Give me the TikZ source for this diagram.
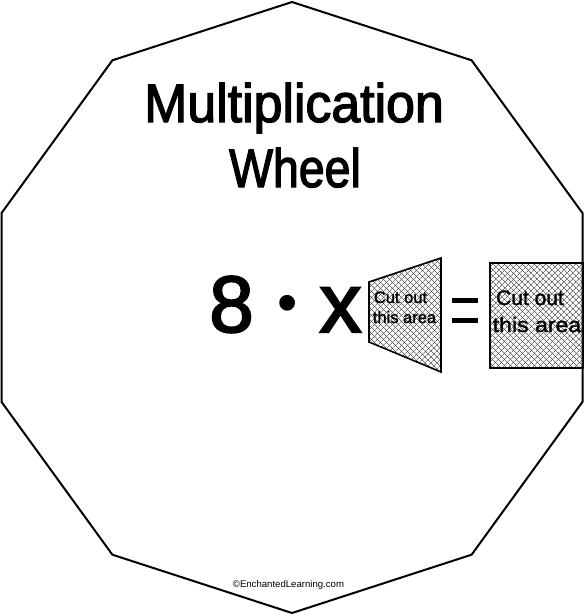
\documentclass[tikz,border=0pt]{standalone}
\usepackage{fontspec}
\setmainfont{Liberation Sans}
\newfontfamily\heavyfont[FakeBold=2.5]{Liberation Sans}
\newfontfamily\midfont[FakeBold=1.5]{Liberation Sans}
\usetikzlibrary{patterns.meta}
\tikzset{
  outline/.style={draw=black, line width=2pt, line join=miter},
  hatchbox/.style={draw=black, line width=1.6pt},
  hatchA/.style={pattern={Lines[angle=45,distance=4pt,line width=0.5pt]}, pattern color=black!85},
  hatchB/.style={pattern={Lines[angle=-45,distance=4pt,line width=0.5pt]}, pattern color=black!85},
  txt/.style={inner sep=0pt, anchor=base, text=black},
}
\begin{document}
\begin{tikzpicture}[x=1pt,y=-1pt]
\useasboundingbox (0,0) rectangle (584,614);
% decagon
\draw[outline] (292,2) -- (471.6,60.3) -- (582.5,213.1) -- (582.5,401.9) -- (471.6,554.7)
  -- (292,613) -- (112.4,554.7) -- (1.5,401.9) -- (1.5,213.1) -- (112.4,60.3) -- cycle;
% title
\node[txt, xscale=0.96] (t1) at (294,122) {\fontsize{54}{60}\heavyfont Multiplication};
\node[txt, xscale=0.86] (t2) at (295,187) {\fontsize{54}{60}\heavyfont Wheel};
% equation
\node[txt] (eight) at (231.5,332) {\fontsize{80}{90}\heavyfont 8};
\node[txt] (dot) at (288,322) {\fontsize{58}{62}\selectfont •};
\node[txt] (times) at (340.5,332) {\fontsize{84}{90}\heavyfont x};
% trapezoid
\fill[hatchA] (369,282) -- (441,258) -- (441,372) -- (369,342) -- cycle;
\fill[hatchB] (369,282) -- (441,258) -- (441,372) -- (369,342) -- cycle;
\draw[hatchbox] (369,282) -- (441,258) -- (441,372) -- (369,342) -- cycle;
\node[txt] (trapA) at (400.5,303) {\fontsize{16.5}{18}\midfont Cut out};
\node[txt] (trapB) at (404.5,323) {\fontsize{16.5}{18}\midfont this area};
% equals
\fill (452,297.5) rectangle (478,302.5);
\fill (452,317.5) rectangle (478,322.5);
% rectangle
\fill[hatchA] (490,263) rectangle (584,368);
\fill[hatchB] (490,263) rectangle (584,368);
\draw[hatchbox] (490,263) rectangle (584,368);
\node[txt] (recA) at (530,305) {\fontsize{21}{24}\midfont Cut out};
\node[txt, xscale=1.1] (recB) at (537,332) {\fontsize{21}{24}\midfont this area};
% copyright
\node[txt] (copy) at (288.5,587) {\fontsize{9.6}{11}\selectfont ©EnchantedLearning.com};
\end{tikzpicture}
\end{document}
